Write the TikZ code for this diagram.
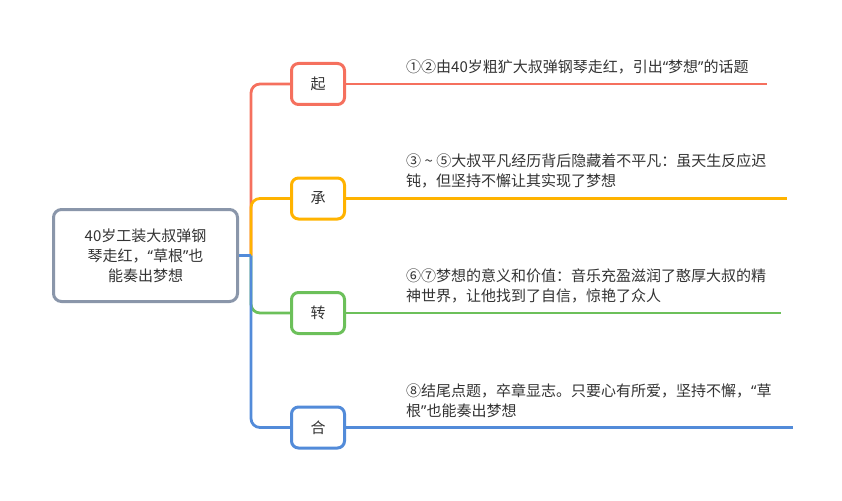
\documentclass[tikz,border=0pt]{standalone}
\usepackage{fontspec}
\setmainfont{Noto Sans CJK SC}
\newfontfamily\quotefont{Noto Sans}
\newcommand\qopen{{\quotefont “}}
\newcommand\qclose{{\quotefont ”}}
\usetikzlibrary{positioning}
\definecolor{qiRed}{HTML}{F5705E}
\definecolor{chengOrange}{HTML}{FFB300}
\definecolor{zhuanGreen}{HTML}{6CC05A}
\definecolor{heBlue}{HTML}{528BD9}
\definecolor{rootGrey}{HTML}{8A96AA}
\definecolor{txtGrey}{HTML}{333333}

\begin{document}
\begin{tikzpicture}[x=1pt, y=-1pt,
rootbox/.style={draw=rootGrey, line width=3pt, rounded corners=8pt, fill=white, minimum width=184pt, minimum height=92pt, align=center, inner sep=0pt, font=\fontsize{15}{20}\selectfont, text=txtGrey},
branch/.style={draw=#1, line width=3pt, rounded corners=7pt, fill=white, minimum width=53pt, minimum height=41pt, inner sep=0pt, font=\fontsize{15}{20}\selectfont, text=txtGrey},
note/.style={anchor=south west, align=left, inner sep=0pt, font=\fontsize{15}{20}\selectfont, text=txtGrey},
link/.style={line width=2.8pt, rounded corners=9pt}
]
\useasboundingbox (0,0) rectangle (842,500);

% root and the four parts
\node[rootbox] (root) at (145.5,255.5) {40岁工装大叔弹钢\\琴走红，\qopen 草根\qclose 也\\能奏出梦想};
\coordinate (hub) at (251,255.5);
\node[branch=qiRed] (qi) at (318,84) {起};
\node[branch=chengOrange] (cheng) at (318,198.5) {承};
\node[branch=zhuanGreen] (zhuan) at (318,313) {转};
\node[branch=heBlue] (he) at (318,427.5) {合};

% connectors
\draw[link, qiRed] (hub) |- (qi.west);
\draw[link, chengOrange] (hub) |- (cheng.west);
\draw[link, zhuanGreen] (hub) |- (zhuan.west);
\draw[link, heBlue] (hub) |- (he.west);
\draw[link, heBlue] (root.east) -- (hub);

% underlines
\coordinate (e1) at (767,84);
\coordinate (e2) at (787,198);
\coordinate (e3) at (781,312);
\coordinate (e4) at (793,427);
\draw[link, qiRed] (qi.east) -- (qi.east -| e1);
\draw[link, chengOrange] (cheng.east) -- (cheng.east -| e2);
\draw[link, zhuanGreen] (zhuan.east) -- (zhuan.east -| e3);
\draw[link, heBlue] (he.east) -- (he.east -| e4);

% notes
\node[note] (n1) at ([xshift=60pt,yshift=10pt]qi.east) {①②由40岁粗犷大叔弹钢琴走红，引出\qopen 梦想\qclose 的话题};
\node[note] (n2) at ([xshift=60pt,yshift=10pt]cheng.east) {③ \textasciitilde\ ⑤大叔平凡经历背后隐藏着不平凡：虽天生反应迟\\钝，但坚持不懈让其实现了梦想};
\node[note] (n3) at ([xshift=60pt,yshift=10pt]zhuan.east) {⑥⑦梦想的意义和价值：音乐充盈滋润了憨厚大叔的精\\神世界，让他找到了自信，惊艳了众人};
\node[note] (n4) at ([xshift=60pt,yshift=10pt]he.east) {⑧结尾点题，卒章显志。只要心有所爱，坚持不懈，\qopen 草\\根\qclose 也能奏出梦想};
\end{tikzpicture}
\end{document}
